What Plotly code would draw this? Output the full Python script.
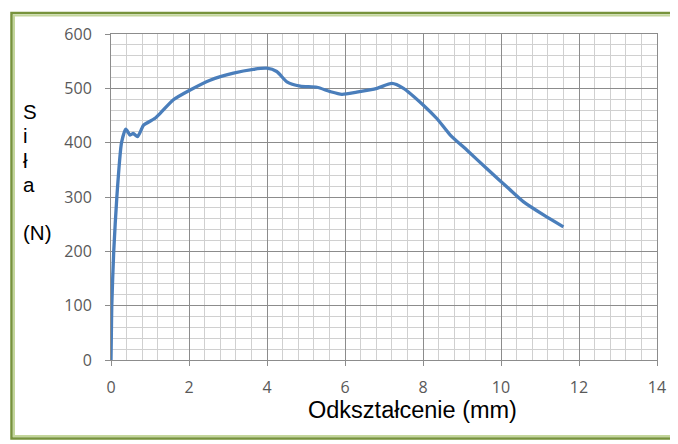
import plotly.graph_objects as go

# Data
strain_mm = [0.0, 0.01, 0.02, 0.07, 0.15, 0.27, 0.38, 0.49, 0.57, 0.68, 0.79, 0.83, 1.13,
             1.26, 1.6, 2.03, 2.54, 3.14, 3.65, 3.99, 4.25, 4.51, 4.85, 5.28, 5.62,
             5.92, 6.3, 6.82, 7.2, 7.5, 8.01, 8.36, 8.7, 9.13, 9.64,
             10.19, 10.58, 11.09, 11.6]
force_n = [0, 50, 100, 200, 300, 400, 425, 414, 417, 411, 426, 432, 445,
           454, 479, 497, 515, 528, 535, 537, 531, 512, 504, 502, 494,
           489, 493, 500, 509, 500, 469, 444, 414, 386, 352,
           316, 291, 267, 245]

x_ticks = [0, 2, 4, 6, 8, 10, 12, 14]
y_ticks = [0, 100, 200, 300, 400, 500, 600]
x_title = "Odkształcenie (mm)"
y_title_parts = ["S", "i", "ł", "a", "(N)"]

OFF = 8  # browser body margin
W, H = 678 - OFF, 444 - OFF
# plot area in page pixels
L, R, T, B = 111, 657, 34, 360
pw, ph = R - L, B - T

def px(x):
    return (x - L) / pw

def py(y):
    return (B - y) / ph

fig = go.Figure()
fig.add_trace(go.Scatter(
    x=strain_mm, y=force_n, mode="lines",
    line=dict(color="#4a7ebb", width=3.3, shape="spline", smoothing=0.6),
    hoverinfo="skip", showlegend=False,
))

tickfont = dict(family="Open Sans, sans-serif", size=16, color="#595959")
common = dict(
    showline=True, linecolor="#8c8c8c", linewidth=1, mirror=True,
    showgrid=True, gridcolor="#8c8c8c", gridwidth=1,
    ticks="outside", ticklen=5, tickcolor="#8c8c8c",
    tickfont=tickfont, zeroline=False, fixedrange=True,
)
fig.update_xaxes(range=[0, 14], tickvals=x_ticks, ticktext=[str(v) for v in x_ticks],
                 minor=dict(dtick=0.4, showgrid=True, gridcolor="#d0d0d0", gridwidth=1),
                 ticklabelstandoff=8, **common)
fig.update_yaxes(range=[0, 600], tickvals=y_ticks, ticktext=[str(v) for v in y_ticks],
                 minor=dict(dtick=20, showgrid=True, gridcolor="#d0d0d0", gridwidth=1),
                 ticklabelstandoff=10, **common)

annotations = [dict(
    x=px(412), y=py(410), xref="paper", yref="paper", text=x_title,
    showarrow=False, xanchor="center", yanchor="middle",
    font=dict(family="Liberation Sans, Arial, sans-serif", size=23.5, color="#000000"),
)]
for txt, yc in zip(y_title_parts, [112, 136, 160, 184, 232]):
    annotations.append(dict(
        x=px(21), y=py(yc), xref="paper", yref="paper", text=txt,
        showarrow=False, xanchor="left", yanchor="middle",
        font=dict(family="Liberation Sans, Arial, sans-serif", size=20.5, color="#000000"),
    ))

shapes = [
    dict(type="rect", xref="paper", yref="paper",
         x0=px(11.5), x1=px(673.5), y0=py(438.5), y1=py(13),
         line=dict(color="#77933c", width=2.5), fillcolor="rgba(0,0,0,0)", layer="above"),
    dict(type="rect", xref="paper", yref="paper",
         x0=px(14), x1=px(671), y0=py(436), y1=py(15.5),
         line=dict(color="#c3d69b", width=2), fillcolor="rgba(0,0,0,0)", layer="above"),
]

fig.update_layout(
    width=W, height=H,
    margin=dict(l=L - OFF, r=(W + OFF) - R, t=T - OFF, b=(H + OFF) - B, pad=0),
    paper_bgcolor="white", plot_bgcolor="white",
    annotations=annotations, shapes=shapes, showlegend=False,
)

fig.write_html("out.html", config={"displayModeBar": False})
